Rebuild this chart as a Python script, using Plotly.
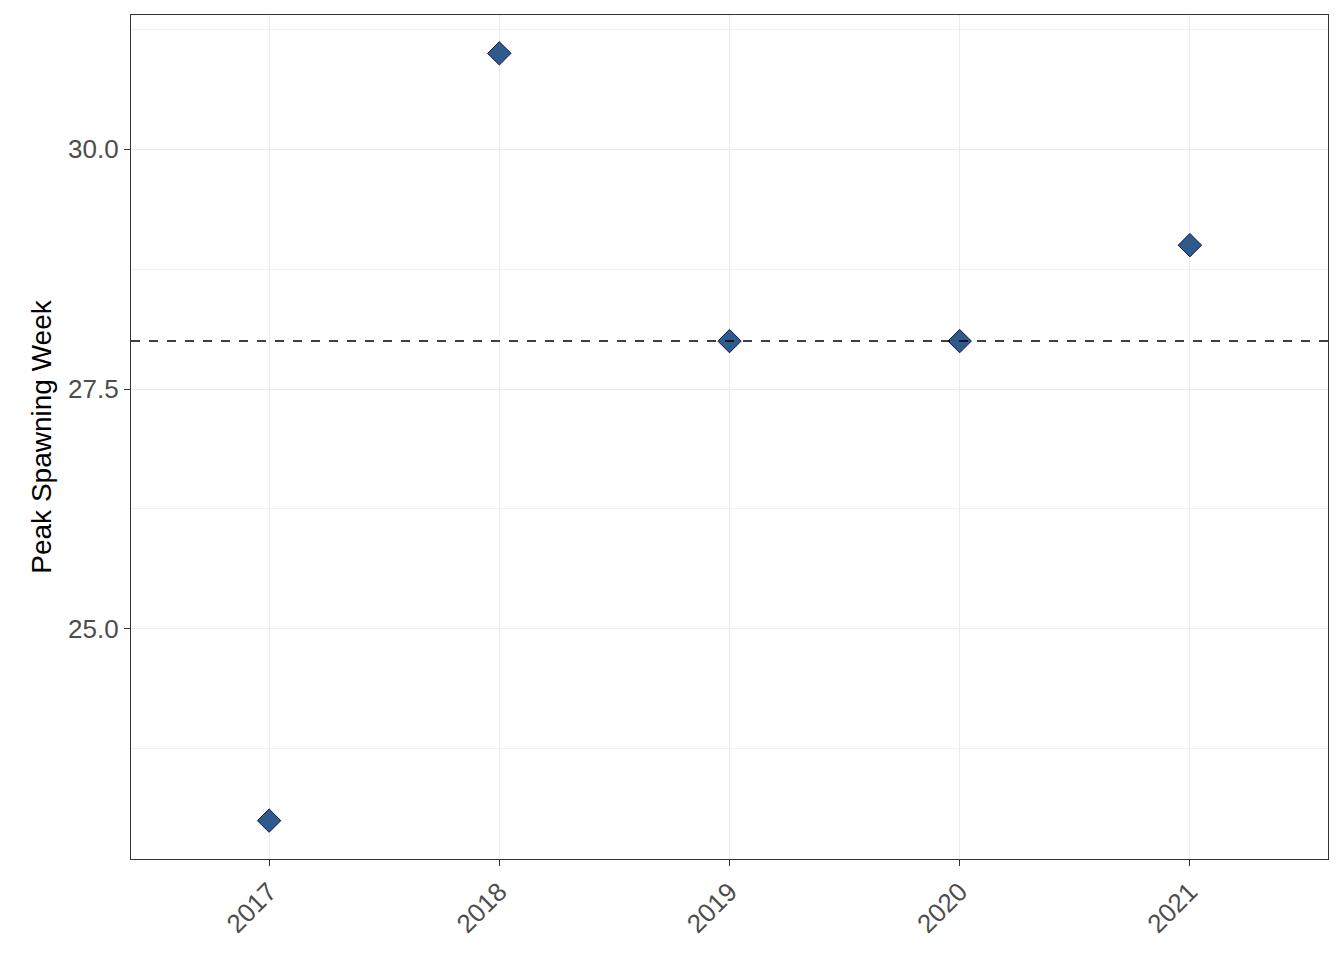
import plotly.graph_objects as go

years = [2017, 2018, 2019, 2020, 2021]
peak_week = [23, 31, 28, 28, 29]
reference_week = 28
y_ticks = [25.0, 27.5, 30.0]
y_tick_labels = ["25.0", "27.5", "30.0"]

fig = go.Figure()
fig.add_trace(go.Scatter(
    x=years, y=peak_week, mode="markers",
    marker=dict(symbol="diamond", size=18, color="#2e5a8c",
                line=dict(color="#101050", width=1)),
    showlegend=False,
))
fig.add_hline(y=reference_week, line=dict(color="black", width=1.5, dash="dash"))

axis_common = dict(
    showline=True, mirror=True, linecolor="#333333", linewidth=1.2,
    ticks="outside", ticklen=6, tickcolor="#333333",
    gridcolor="#ebebeb", gridwidth=1, zeroline=False,
    tickfont=dict(family="Liberation Sans, Arial", size=26, color="#4d4d4d"),
)
fig.update_xaxes(range=[2016.4, 2021.6], tickvals=years, tickangle=-45, **axis_common)
fig.update_yaxes(range=[22.6, 31.4], tickvals=y_ticks, ticktext=y_tick_labels,
                 minor=dict(tickvals=[23.75, 26.25, 28.75, 31.25], gridcolor="#f2f2f2", ticks=""),
                 title=dict(text="Peak Spawning Week",
                            font=dict(family="Liberation Sans, Arial", size=28, color="black"),
                            standoff=8),
                 **axis_common)
fig.update_layout(
    width=1328, height=944, plot_bgcolor="white", paper_bgcolor="white",
    margin=dict(l=123, r=8, t=7, b=93),
)
fig.write_html("out.html")
